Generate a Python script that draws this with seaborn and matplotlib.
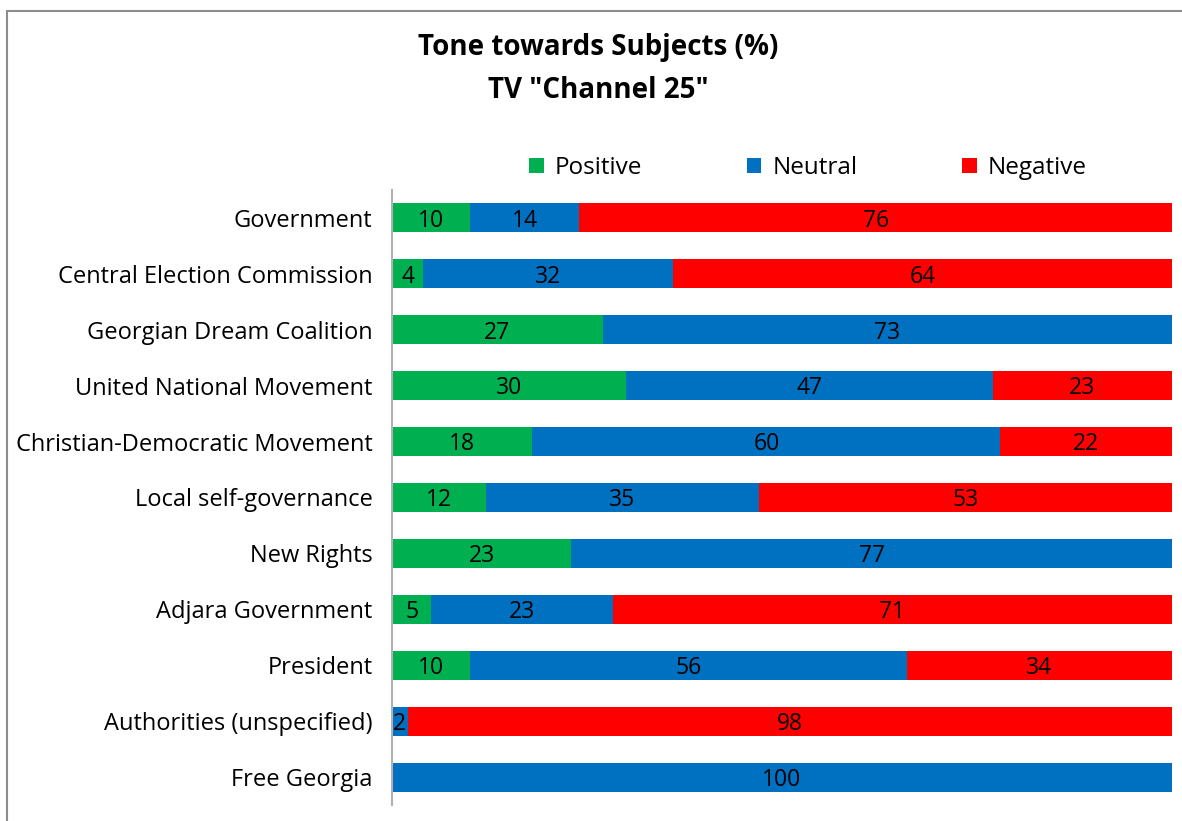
import numpy as np
import pandas as pd
import matplotlib.pyplot as plt
import seaborn as sns
from matplotlib.patches import Patch, Rectangle

# -----------------------------
# Data
# -----------------------------
subjects = [
    "Government",
    "Central Election Commission",
    "Georgian Dream Coalition",
    "United National Movement",
    "Christian-Democratic Movement",
    "Local self-governance",
    "New Rights",
    "Adjara Government",
    "President",
    "Authorities (unspecified)",
    "Free Georgia",
]
positive = [10, 4, 27, 30, 18, 12, 23, 5, 10, 0, 0]
neutral = [14, 32, 73, 47, 60, 35, 77, 23, 56, 2, 100]
negative = [76, 64, 0, 23, 22, 53, 0, 71, 34, 98, 0]

series = ["Positive", "Neutral", "Negative"]
colors = {"Positive": "#00B050", "Neutral": "#0070C0", "Negative": "#FF0000"}

# -----------------------------
# Style
# -----------------------------
sns.set_theme(style="white")
plt.rcParams["font.family"] = ["Open Sans", "DejaVu Sans"]
plt.rcParams["text.color"] = "black"
plt.rcParams["ytick.color"] = "black"

df = pd.DataFrame({"Subject": subjects, "Positive": positive,
                   "Neutral": neutral, "Negative": negative})
total = df[series].sum(axis=1)
# 100% stacked: widths scaled to the row total
share = df[series].div(total, axis=0) * 100
df["c_pos"] = share["Positive"]
df["c_neu"] = share["Positive"] + share["Neutral"]
df["c_neg"] = share["Positive"] + share["Neutral"] + share["Negative"]

fig = plt.figure(figsize=(11.82, 8.21), dpi=100)
ax = fig.add_axes([392 / 1182, 1 - 805 / 821, 780 / 1182, 615 / 821])

# outer chart border
fig.patches.append(Rectangle((7 / 1182, -0.05), 1.2, 1 - 11 / 821 + 0.05,
                             transform=fig.transFigure, fill=False,
                             edgecolor="#8c8c8c", linewidth=1.5))

# draw cumulative bars from the back to the front
for col, name in [("c_neg", "Negative"), ("c_neu", "Neutral"), ("c_pos", "Positive")]:
    sns.barplot(data=df, x=col, y="Subject", orient="h", color=colors[name],
                width=0.52, saturation=1, ax=ax, linewidth=0)

# segment labels
starts = np.zeros(len(df))
for name in series:
    w = share[name].values
    for i in range(len(df)):
        if df[name].iloc[i] > 0:
            ax.text(starts[i] + w[i] / 2, i + 0.05, str(df[name].iloc[i]),
                    ha="center", va="center", fontsize=16.5, color="black")
    starts = starts + w

ax.set_xlim(0, 100)
ax.set_ylim(len(df) - 0.5, -0.5)
ax.set_xlabel("")
ax.set_ylabel("")
ax.set_xticks([])
ax.tick_params(axis="y", labelsize=17, length=0, pad=14)
for s in ["top", "right", "bottom"]:
    ax.spines[s].set_visible(False)
ax.spines["left"].set_color("#b0b0b0")
ax.spines["left"].set_linewidth(1.5)

# title
fig.text(598 / 1182, 1 - 48 / 821, "Tone towards Subjects (%)", ha="center",
         va="center", fontsize=20, fontweight="bold")
fig.text(598 / 1182, 1 - 90 / 821, 'TV "Channel 25"', ha="center",
         va="center", fontsize=20, fontweight="bold")

# legend
handles = [Patch(facecolor=colors[n], edgecolor="none", label=n) for n in series]
fig.legend(handles=handles, loc="center", ncol=3, frameon=False,
           bbox_to_anchor=(808 / 1182, 1 - 168 / 821), fontsize=17.5,
           handlelength=0.6, handleheight=0.6, handletextpad=0.45,
           columnspacing=4.3)

plt.savefig("out.png", dpi=100)
plt.close()
